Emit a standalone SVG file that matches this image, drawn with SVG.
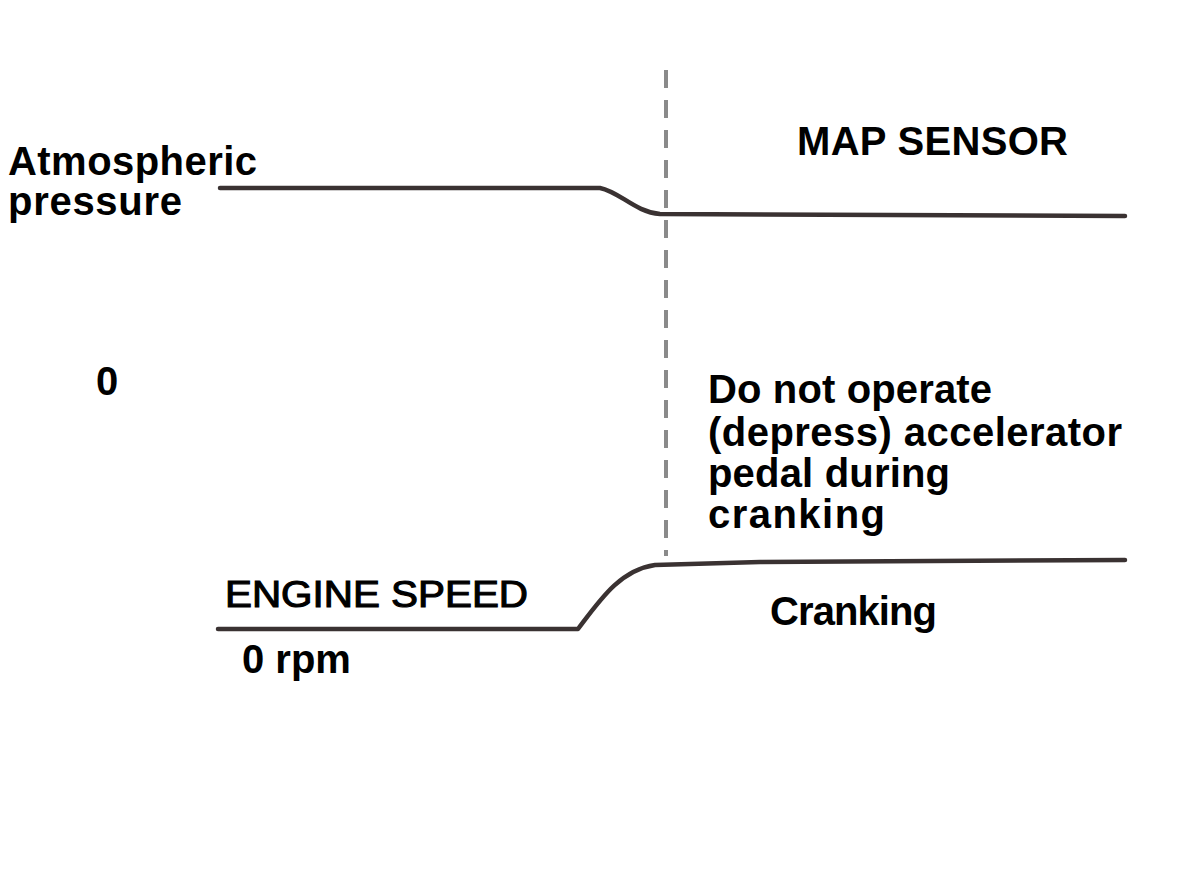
<svg xmlns="http://www.w3.org/2000/svg" width="1200" height="878" viewBox="0 0 1200 878">
<style>
.t{font-family:"Liberation Sans",Arial,sans-serif;font-weight:bold;font-size:40px;fill:#000}
.n{font-family:"Liberation Sans",Arial,sans-serif;font-weight:normal;font-size:36px;fill:#000;stroke:#000;stroke-width:1.1}
.curve{fill:none;stroke:#3a3232;stroke-width:4.5;stroke-linecap:round;stroke-linejoin:round}
.dash{fill:none;stroke:#8a8a8a;stroke-width:4;stroke-dasharray:18 12}
</style>
<rect width="1200" height="878" fill="#fff"/>
<g id="connectors">
<path class="dash" d="M666,70 L666,556"/>
<path class="curve" d="M220,188 L600,188 C620,192 635,212 660,214 L1125,216"/>
<path class="curve" d="M218,629 L578,629 C600,600 620,570 655,565 L760,562 L1125,560"/>
</g>
<g id="labels">
<text class="t" x="8" y="175" textLength="249" lengthAdjust="spacing">Atmospheric</text>
<text class="t" x="8" y="215" textLength="174" lengthAdjust="spacing">pressure</text>
<text class="t" x="797" y="155" textLength="271" lengthAdjust="spacing">MAP SENSOR</text>
<text class="t" x="96" y="395">0</text>
<text class="t" x="708" y="403" textLength="284" lengthAdjust="spacing">Do not operate</text>
<text class="t" x="708" y="446" textLength="414" lengthAdjust="spacing">(depress) accelerator</text>
<text class="t" x="708" y="487" textLength="242" lengthAdjust="spacing">pedal during</text>
<text class="t" x="708" y="528" textLength="177" lengthAdjust="spacing">cranking</text>
<text class="n" x="225" y="607" textLength="303" lengthAdjust="spacingAndGlyphs">ENGINE SPEED</text>
<text class="t" x="770" y="625" textLength="167" lengthAdjust="spacing">Cranking</text>
<text class="t" x="242" y="673">0 rpm</text>
</g>
</svg>
